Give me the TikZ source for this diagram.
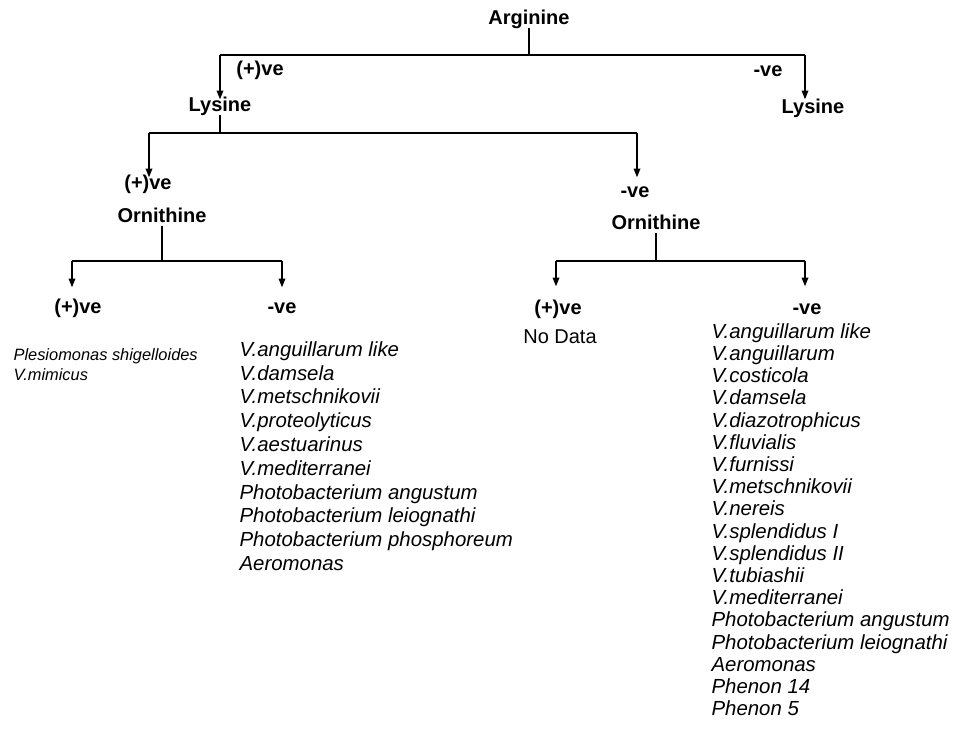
\documentclass[tikz,border=0pt]{standalone}
\usepackage{fontspec}
\setmainfont{Liberation Sans}
\usetikzlibrary{arrows.meta}
\tikzset{>={Triangle[width=5pt,length=6.5pt]}}

\begin{document}
\begin{tikzpicture}[x=0.75pt,y=-0.75pt,line width=0.9pt,
	test/.style={font=\fontsize{15}{18}\selectfont\bfseries,inner sep=0pt,text height=0.72em,text depth=0.2em},
	res/.style={test},
	spp/.style={font=\fontsize{15.3}{17.85}\selectfont\itshape,align=left,anchor=north west,inner sep=0pt},
	sppr/.style={spp,font=\fontsize{15.3}{16.65}\selectfont\itshape},
	spps/.style={spp,font=\fontsize{12.3}{15}\selectfont\itshape}]
	\useasboundingbox (0,0) rectangle (953,744);

	% arginine
	\node[test] (arg) at (529,21) {Arginine};
	\coordinate (b1l) at (220,55);
	\coordinate (b1r) at (805,55);
	\draw (arg) -- (arg |- b1l);
	\draw (b1l) -- (b1r);
	\node[test] (lysA) at (220,108) {Lysine};
	\node[test] (lysB) at (813,110) {Lysine};
	\draw[->,shorten >=1.5pt] (b1l) -- (b1l |- lysA.north);
	\draw[->,shorten >=3pt] (b1r) -- (b1r |- lysB.north);
	\node[res] (posA) at (260,72) {(+)ve};
	\node[res] (negA) at (768,73) {-ve};

	% lysine
	\coordinate (b2l) at (149,133);
	\coordinate (b2r) at (637,133);
	\draw (lysA) -- (lysA |- b2l);
	\draw (b2l) -- (b2r);
	\node[res] (posB) at (148,186) {(+)ve};
	\node[res] (negB) at (635,194) {-ve};
	\draw[->,shorten >=1.5pt] (b2l) -- (b2l |- posB.north);
	\draw[->,shorten >=7.5pt] (b2r) -- (b2r |- negB.north);
	\node[test] (ornA) at (162,219) {Ornithine};
	\node[test] (ornB) at (656,226) {Ornithine};

	% ornithine, lysine (+)ve
	\coordinate (b3l) at (72,261);
	\coordinate (b3r) at (282,261);
	\draw (ornA) -- (ornA |- b3l);
	\draw (b3l) -- (b3r);
	\node[res] (posC) at (78,310) {(+)ve};
	\node[res] (negC) at (282,310) {-ve};
	\draw[->,shorten >=12pt] (b3l) -- (b3l |- posC.north);
	\draw[->,shorten >=12pt] (b3r) -- (b3r |- negC.north);

	% ornithine, lysine -ve
	\coordinate (b4l) at (556,261);
	\coordinate (b4r) at (805,261);
	\draw (ornB) -- (ornB |- b4l);
	\draw (b4l) -- (b4r);
	\node[res] (posD) at (558,311) {(+)ve};
	\node[res] (negD) at (807,311) {-ve};
	\draw[->,shorten >=13.5pt] (b4l) -- (b4l |- posD.north);
	\draw[->,shorten >=13.5pt] (b4r) -- (b4r |- negD.north);

	% species
	\node[spps] (listC) at (13,348) {Plesiomonas shigelloides\\V.mimicus};
	\node[spp] (listCn) at (239,341) {V.anguillarum like\\V.damsela\\V.metschnikovii\\V.proteolyticus\\V.aestuarinus\\V.mediterranei\\Photobacterium angustum\\Photobacterium leiognathi\\Photobacterium phosphoreum\\Aeromonas};
	\node[font=\fontsize{15}{18}\selectfont,inner sep=0pt] (listD) at (560,337) {No Data};
	\node[sppr] (listDn) at (711,323) {V.anguillarum like\\V.anguillarum\\V.costicola\\V.damsela\\V.diazotrophicus\\V.fluvialis\\V.furnissi\\V.metschnikovii\\V.nereis\\V.splendidus I\\V.splendidus II\\V.tubiashii\\V.mediterranei\\Photobacterium angustum\\Photobacterium leiognathi\\Aeromonas\\Phenon 14\\Phenon 5};
\end{tikzpicture}
\end{document}
